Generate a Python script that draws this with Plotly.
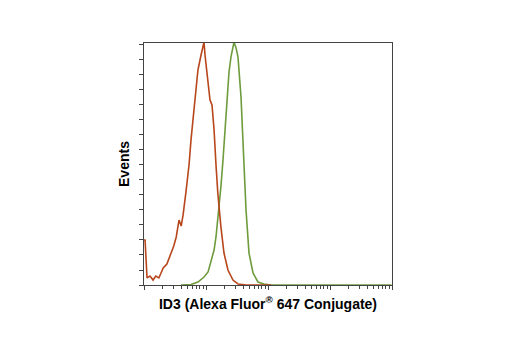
import plotly.graph_objects as go

# Isotype / negative control histogram (red)
red_intensity = [1.0, 1.04, 1.12, 1.25, 1.40, 1.55, 1.74, 2.04, 2.34, 2.72, 3.02, 3.31, 3.67,
                 3.98, 4.27, 4.79, 5.32, 5.73, 6.40, 6.92, 7.41, 8.32, 8.91, 9.29, 9.64,
                 10.7, 11.6, 12.5, 13.5, 14.5, 15.5, 17.4, 19.5, 22.6, 27.2, 32.8, 44.2, 112]
red_events = [3.0, 3.0, 0.47, 0.6, 0.33, 0.6, 0.47, 1.13, 1.4, 2.13, 2.6, 3.2, 4.33,
              3.93, 4.67, 6.33, 8.0, 9.67, 11.87, 13.0, 14.33, 15.33, 16.0, 16.2, 15.33,
              13.67, 12.33, 12.0, 10.33, 8.0, 6.13, 3.87, 2.13, 1.0, 0.33, 0.07, 0.0, 0.0]

# ID3 stained histogram (green)
green_intensity = [3.95, 5.73, 7.43, 9.29, 10.8, 12.0, 13.5, 14.5, 16.2, 17.5, 18.8, 21.0,
                   23.5, 25.3, 27.2, 28.3, 30.5, 32.8, 36.7, 39.5, 41.0, 44.2, 49.4, 57.3,
                   69.0, 86.1, 112, 340, 9800]
green_events = [0.0, 0.03, 0.2, 0.53, 0.87, 1.53, 2.33, 3.2, 5.0, 6.67, 8.33, 11.47,
                14.2, 15.2, 15.87, 16.2, 15.8, 15.2, 12.53, 9.67, 8.0, 5.0, 2.13, 0.8,
                0.2, 0.07, 0.0, 0.0, 0.0]

x_title = "ID3 (Alexa Fluor<sup>®</sup> 647 Conjugate)"
y_title = "Events"

font_family = "Liberation Sans Narrow, Arial Narrow, Liberation Sans, Arial, sans-serif"

fig = go.Figure()
fig.add_trace(go.Scatter(x=green_intensity, y=green_events, mode="lines",
                         line=dict(color="#6e9b3c", width=1.6), showlegend=False))
fig.add_trace(go.Scatter(x=red_intensity, y=red_events, mode="lines",
                         line=dict(color="#b8461c", width=1.6), showlegend=False))

fig.update_layout(
    width=520, height=350,
    margin=dict(l=136, r=136, t=35, b=73),
    paper_bgcolor="white", plot_bgcolor="white",
    font=dict(family=font_family, color="black"),
)
fig.update_xaxes(
    type="log", range=[0, 4], dtick=1,
    showticklabels=False, ticks="outside", ticklen=4, tickcolor="#444",
    minor=dict(ticks="outside", ticklen=3, dtick="D1", tickcolor="#444", showgrid=False),
    showgrid=False, zeroline=False,
    showline=True, linecolor="#444", linewidth=1, mirror=True,
    title=dict(text=x_title, font=dict(size=14, family=font_family, weight="bold"), standoff=10),
)
fig.update_yaxes(
    range=[0, 16.13], dtick=1,
    showticklabels=False, ticks="outside", ticklen=4, tickcolor="#444",
    showgrid=False, zeroline=False,
    showline=True, linecolor="#444", linewidth=1, mirror=True,
    title=dict(text=y_title, font=dict(size=14, family=font_family, weight="bold"), standoff=6),
)

fig.write_html("out.html")
